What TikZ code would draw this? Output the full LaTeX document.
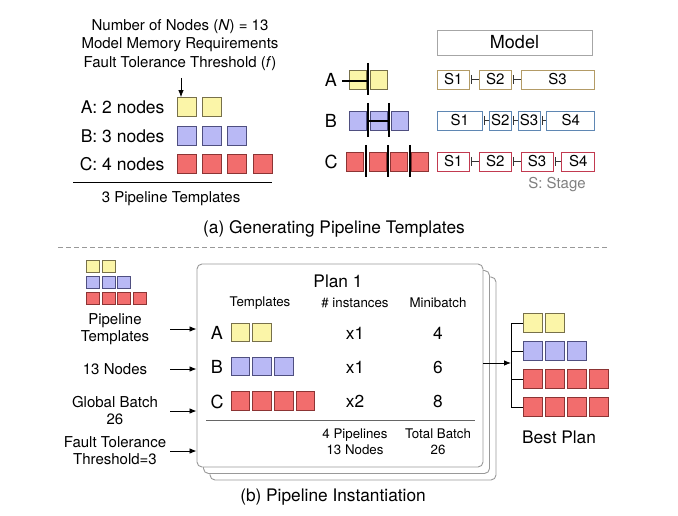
\documentclass[tikz,border=0pt]{standalone}
\usepackage{fontspec}
\setmainfont{TeX Gyre Heros}
\usetikzlibrary{arrows.meta,positioning}
\definecolor{yelfill}{HTML}{FBF5A8}
\definecolor{yeldraw}{HTML}{77704A}
\definecolor{blufill}{HTML}{B9B9F5}
\definecolor{bludraw}{HTML}{4F4F80}
\definecolor{redfill}{HTML}{F26D6D}
\definecolor{reddraw}{HTML}{8C3434}
\definecolor{stgA}{HTML}{B39B66}
\definecolor{stgB}{HTML}{5F87B3}
\definecolor{stgC}{HTML}{C23A50}
\tikzset{
  sq/.style={draw, line width=0.8pt, minimum size=19pt, inner sep=0pt},
  ysq/.style={sq, fill=yelfill, draw=yeldraw},
  bsq/.style={sq, fill=blufill, draw=bludraw},
  rsq/.style={sq, fill=redfill, draw=reddraw},
  stg/.style={draw, fill=white, line width=0.8pt, minimum height=19pt, inner sep=0pt, font=\fontsize{15}{18}\selectfont},
  link/.style={line width=0.9pt, black!80},
  cut/.style={line width=1.7pt},
  into/.style={-{Latex[length=7pt,width=5.5pt]}, line width=0.8pt},
  planbox/.style={draw=black!40, fill=white, line width=0.9pt, rounded corners=5pt},
  t13/.style={font=\fontsize{13.3}{16}\selectfont, align=center},
  t15/.style={font=\fontsize{15}{17.5}\selectfont, align=center},
  t17/.style={font=\fontsize{17.3}{20}\selectfont},
  t18/.style={font=\fontsize{18}{21}\selectfont}
}
\begin{document}
\begin{tikzpicture}[x=1pt, y=-1pt]
  \useasboundingbox (0,0) rectangle (678,516);

  % (a) templates
  \node[t15, font=\fontsize{15}{18.5}\selectfont] (req) at (180,45)
    {Number of Nodes (\textit{N}) = 13\\Model Memory Requirements\\Fault Tolerance Threshold (\textit{f})};
  \foreach \i in {0,1} \node[ysq] (ta\i) at (186.5+25.3*\i,107) {};
  \foreach \i in {0,1,2} \node[bsq] (tb\i) at (186.5+25.3*\i,136) {};
  \foreach \i in {0,1,2,3} \node[rsq] (tc\i) at (186.5+25.3*\i,164) {};
  \node[t15, font=\fontsize{17.5}{20}\selectfont, anchor=east] (la) at (168,107) {A: 2 nodes};
  \node[t15, font=\fontsize{17.5}{20}\selectfont, anchor=east] (lb) at (168,136) {B: 3 nodes};
  \node[t15, font=\fontsize{17.5}{20}\selectfont, anchor=east] (lc) at (168,164) {C: 4 nodes};
  \draw[into] ([xshift=-5.5pt]ta0.north |- 0,78) -- ([xshift=-5.5pt]ta0.north);
  \draw[line width=0.8pt] (73,182) -- (272,182);
  \node[t15] (ntpl) at (171,199) {3 Pipeline Templates};

  \node[draw=black!35, line width=0.9pt, minimum width=155pt, minimum height=25pt, t18] (model) at (514.5,42.5) {Model};
  \node[t18] (ra) at (331,80) {A};
  \node[t18] (rb) at (331,120.5) {B};
  \node[t18] (rc) at (331,161.5) {C};
  \foreach \x [count=\i] in {357.5,378.5} \node[ysq, minimum width=17pt] (ca\i) at (\x,79.5) {};
  \foreach \x [count=\i] in {357.5,378.5,400} \node[bsq, minimum width=17pt] (cb\i) at (\x,120.5) {};
  \foreach \x [count=\i] in {355,377.5,399,420} \node[rsq, minimum width=17pt] (cc\i) at (\x,161.5) {};
  \draw[cut] (368,63) -- (368,95);
  \draw[line width=1.4pt] (342,81) -- (368,81);
  \draw[cut] (368,103) -- (368,137) (389,103) -- (389,137);
  \draw[line width=1.4pt] (368,121) -- (389,121);
  \foreach \x in {366,388,410} \draw[cut] (\x,145) -- (\x,177);

  \node[stg, draw=stgA, minimum width=32pt, anchor=west] (a1) at (437,79.5) {S1};
  \node[stg, draw=stgA, minimum width=32pt, right=9pt of a1] (a2) {S2};
  \node[stg, draw=stgA, minimum width=73pt, right=9pt of a2] (a3) {S3};
  \node[stg, draw=stgB, minimum width=45pt, anchor=west] (b1) at (437,120.5) {S1};
  \node[stg, draw=stgB, minimum width=22pt, right=6pt of b1] (b2) {S2};
  \node[stg, draw=stgB, minimum width=22pt, right=6pt of b2] (b3) {S3};
  \node[stg, draw=stgB, minimum width=48pt, right=6pt of b3] (b4) {S4};
  \node[stg, draw=stgC, minimum width=32pt, anchor=west] (c1) at (437,161.5) {S1};
  \node[stg, draw=stgC, minimum width=32pt, right=9pt of c1] (c2) {S2};
  \node[stg, draw=stgC, minimum width=32pt, right=9pt of c2] (c3) {S3};
  \node[stg, draw=stgC, minimum width=33pt, right=8pt of c3] (c4) {S4};
  \foreach \u/\v in {a1/a2,a2/a3,b1/b2,b2/b3,b3/b4,c1/c2,c2/c3,c3/c4} {
    \draw[link] ([xshift=2pt]\u.east) -- (\v.west);
    \draw[link] ([xshift=2pt,yshift=4.5pt]\u.east) -- ([xshift=2pt,yshift=-4.5pt]\u.east);
  }
  \node[t15, text=black!50] (stage) at (557,185) {S: Stage};

  \node[t17] (capa) at (334,229) {(a) Generating Pipeline Templates};
  \draw[black!40, line width=0.9pt, dash pattern=on 5pt off 3pt] (58,247) -- (608,247);

  % (b) instantiation
  \foreach \i in {0,1} \node[ysq, minimum size=12.7pt] (sa\i) at (93+15.6*\i,266.5) {};
  \foreach \i in {0,1,2} \node[bsq, minimum size=12.7pt] (sb\i) at (93+15.6*\i,282.5) {};
  \foreach \i in {0,1,2,3} \node[rsq, minimum size=12.7pt] (sc\i) at (93+15.6*\i,298.5) {};
  \node[t15] (itpl) at (115,329) {Pipeline\\Templates};
  \node[t15] (inodes) at (115,369) {13 Nodes};
  \node[t15] (ibatch) at (115,410.5) {Global Batch\\26};
  \node[t15] (ifault) at (115,450.5) {Fault Tolerance\\Threshold=3};

  \draw[planbox] (210,277) rectangle (496,480);
  \draw[planbox] (203.5,270.5) rectangle (489.5,473.5);
  \node[planbox, minimum width=286pt, minimum height=203pt] (plan) at (340,365.5) {};
  \foreach \n/\y in {tpl/329,nodes/369,batch/411,fault/451} {
    \coordinate (s\n) at (170,\y);
    \draw[into] (s\n) -- (s\n -| plan.west);
  }

  \node[t17] (ptitle) at (338,281) {Plan 1};
  \node[t13] (htpl) at (260,303) {Templates};
  \node[t13] (hinst) at (355,303) {\# instances};
  \node[t13] (hmb) at (438,303) {Minibatch};
  \node[t18] (pa) at (217,333) {A};
  \node[t18] (pb) at (217,367) {B};
  \node[t18] (pc) at (217,401.5) {C};
  \foreach \i in {0,1} \node[ysq, minimum size=18.5pt] (pa\i) at (240.5+21.6*\i,332.5) {};
  \foreach \i in {0,1,2} \node[bsq, minimum size=18.5pt] (pb\i) at (240.5+21.6*\i,366.5) {};
  \foreach \i in {0,1,2,3} \node[rsq, minimum size=18.5pt] (pc\i) at (240.5+21.6*\i,401) {};
  \node[t17] (xa) at (355,333) {x1};
  \node[t17] (xb) at (355,367) {x1};
  \node[t17] (xc) at (355,401.5) {x2};
  \node[t17] (ma) at (438,333) {4};
  \node[t17] (mb) at (438,367) {6};
  \node[t17] (mc) at (438,401.5) {8};
  \draw[black!60, line width=1pt] (206,420) -- (475,420);
  \node[t13] (sum1) at (355,442) {4 Pipelines\\13 Nodes};
  \node[t13] (sum2) at (438,442) {Total Batch\\26};

  \foreach \i in {0,1} \node[ysq] (ba\i) at (532.5+22.2*\i,323) {};
  \foreach \i in {0,1,2} \node[bsq] (bb\i) at (532.5+22.2*\i,351) {};
  \foreach \i in {0,1,2,3} \node[rsq] (bc\i) at (532.5+22.2*\i,379) {};
  \foreach \i in {0,1,2,3} \node[rsq] (bd\i) at (532.5+22.2*\i,407) {};
  \coordinate (tree) at (511,363);
  \draw[into] (plan.east |- tree) -- (tree);
  \begin{scope}[line width=0.8pt]
    \draw (tree |- ba0.west) -- (tree |- bd0.west);
    \draw (tree |- ba0.west) -- (ba0.west);
    \draw (tree |- bb0.west) -- (bb0.west);
    \draw (tree |- bc0.west) -- (bc0.west);
    \draw (tree |- bd0.west) -- (bd0.west);
  \end{scope}
  \node[t17] (best) at (559,437) {Best Plan};

  \node[t17] (capb) at (333,497) {(b) Pipeline Instantiation};
\end{tikzpicture}
\end{document}
